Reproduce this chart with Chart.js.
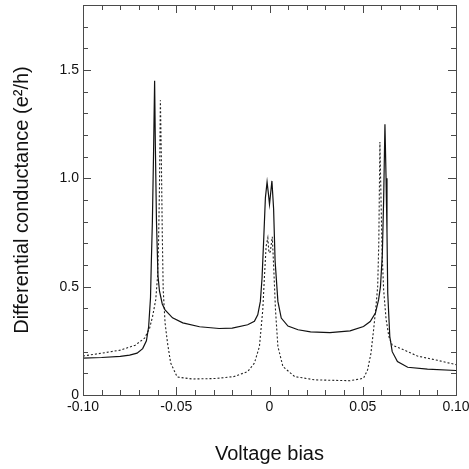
<!DOCTYPE html>
<html>
<head>
<meta charset="utf-8">
<script src="https://cdn.jsdelivr.net/npm/chart.js@4"></script>
<style>
  html, body { margin: 0; padding: 0; background: #fff; }
  canvas { display: block; }
</style>
</head>
<body>
<canvas id="grafico" width="469" height="469"></canvas>
<script>
// solid curve
const biasSolid = [-0.100, -0.090, -0.080, -0.075, -0.071, -0.068, -0.066, -0.0648, -0.0638, -0.0634,
  -0.0628, -0.0622, -0.0616, -0.0612, -0.0606, -0.0598, -0.0590, -0.0575, -0.0560, -0.0520,
  -0.0465, -0.0375, -0.0270, -0.0200, -0.0117, -0.0081, -0.0063, -0.0049, -0.0040, -0.0031,
  -0.0022, -0.0013, -0.0006, 0.0000, 0.0006, 0.0013, 0.0022, 0.0030, 0.0045, 0.0063,
  0.0099, 0.0153, 0.0220, 0.0324, 0.0432, 0.0504, 0.0540, 0.0568, 0.0585, 0.0595,
  0.0605, 0.0612, 0.0619, 0.0625, 0.0630, 0.0634, 0.0645, 0.0658, 0.0686, 0.0741,
  0.0847, 0.1000];
const condSolid = [0.170, 0.173, 0.178, 0.184, 0.193, 0.214, 0.250, 0.315, 0.45, 0.60,
  0.80, 1.10, 1.45, 1.15, 0.80, 0.55, 0.48, 0.42, 0.393, 0.356,
  0.333, 0.315, 0.307, 0.309, 0.324, 0.340, 0.370, 0.432, 0.54, 0.72,
  0.91, 0.983, 0.93, 0.88, 0.93, 0.988, 0.86, 0.62, 0.432, 0.355,
  0.318, 0.301, 0.291, 0.288, 0.296, 0.316, 0.339, 0.378, 0.44, 0.50,
  0.65, 0.90, 1.25, 1.00, 0.75, 0.47, 0.27, 0.20, 0.154, 0.128,
  0.119, 0.113];

// dotted curve
const biasDotted = [-0.100, -0.090, -0.080, -0.072, -0.067, -0.0643, -0.0627, -0.0610, -0.0600, -0.0595,
  -0.0590, -0.0585, -0.0580, -0.0575, -0.0570, -0.0560, -0.0547, -0.0530, -0.0495, -0.0415,
  -0.0290, -0.0190, -0.0117, -0.0081, -0.0054, -0.0036, -0.0027, -0.0018, -0.0009, -0.0003,
  0.0004, 0.0015, 0.0023, 0.0032, 0.0045, 0.0072, 0.0135, 0.0243, 0.0324, 0.0432,
  0.0504, 0.0526, 0.0544, 0.0558, 0.0571, 0.0580, 0.0586, 0.0592, 0.0598, 0.0604,
  0.0612, 0.0625, 0.0640, 0.0658, 0.0703, 0.0793, 0.0901, 0.1000];
const condDotted = [0.180, 0.193, 0.207, 0.230, 0.262, 0.308, 0.362, 0.44, 0.55, 0.70,
  0.95, 1.36, 1.10, 0.75, 0.486, 0.333, 0.241, 0.148, 0.083, 0.074,
  0.076, 0.085, 0.108, 0.147, 0.224, 0.394, 0.548, 0.687, 0.725, 0.656,
  0.66, 0.73, 0.58, 0.394, 0.224, 0.131, 0.085, 0.070, 0.068, 0.066,
  0.077, 0.116, 0.193, 0.30, 0.41, 0.50, 0.70, 1.168, 0.90, 0.65,
  0.486, 0.35, 0.27, 0.230, 0.215, 0.180, 0.160, 0.140];

const xTickLabels = ['-0.10', '-0.05', '0', '0.05', '0.10'];
const yTickLabels = ['0', '0.5', '1.0', '1.5'];

const toPoints = (xs, ys) => xs.map((x, i) => ({ x: x, y: ys[i] }));

// inward ticks on all four sides + frame
const marcoPlugin = {
  id: 'marco',
  afterDatasetsDraw(chart) {
    const ctx = chart.ctx;
    const a = chart.chartArea;
    const sx = chart.scales.x, sy = chart.scales.y;
    ctx.save();
    ctx.strokeStyle = '#4a4a4a';
    ctx.lineWidth = 1;
    ctx.beginPath();
    for (let i = -10; i <= 10; i++) {
      const px = Math.round(sx.getPixelForValue(i / 100)) + 0.5;
      const len = (i % 5 === 0) ? 8 : 5;
      ctx.moveTo(px, a.bottom); ctx.lineTo(px, a.bottom - len);
      ctx.moveTo(px, a.top); ctx.lineTo(px, a.top + len);
    }
    for (let j = 0; j <= 18; j++) {
      const py = Math.round(sy.getPixelForValue(j / 10)) + 0.5;
      const len = (j % 5 === 0) ? 8 : 5;
      ctx.moveTo(a.left, py); ctx.lineTo(a.left + len, py);
      ctx.moveTo(a.right, py); ctx.lineTo(a.right - len, py);
    }
    ctx.stroke();
    ctx.strokeRect(Math.round(a.left) + 0.5, Math.round(a.top) + 0.5,
      Math.round(a.right - a.left), Math.round(a.bottom - a.top));
    ctx.restore();
  }
};

Chart.defaults.font.family = "'Liberation Sans', Arial, sans-serif";
Chart.defaults.color = '#111';

const ctx = document.getElementById('grafico').getContext('2d');
const myChart = new Chart(ctx, {
  type: 'line',
  data: {
    datasets: [{
      label: 'solid',
      data: toPoints(biasSolid, condSolid),
      borderColor: '#111',
      borderWidth: 1.2,
      pointRadius: 0,
      tension: 0,
      fill: false,
    }, {
      label: 'dotted',
      data: toPoints(biasDotted, condDotted),
      borderColor: '#222',
      borderWidth: 1.1,
      borderDash: [2, 2],
      pointRadius: 0,
      tension: 0,
      fill: false,
    }],
  },
  options: {
    responsive: false,
    animation: false,
    layout: { padding: { left: 6, top: 5, right: 13, bottom: 0 } },
    plugins: {
      legend: { display: false },
      tooltip: { enabled: false },
    },
    scales: {
      x: {
        type: 'linear',
        min: -0.1,
        max: 0.1,
        grid: { display: false, drawTicks: false },
        border: { display: false },
        ticks: {
          stepSize: 0.05,
          includeBounds: false,
          autoSkip: false,
          maxRotation: 0,
          padding: 4,
          font: { size: 14 },
          callback: (v) => xTickLabels[Math.round((v + 0.1) / 0.05)],
        },
        title: {
          display: true,
          text: 'Voltage bias',
          font: { size: 20 },
          color: '#111',
          padding: { top: 4, bottom: 3 },
        },
        afterFit: (scale) => {
          scale.height = 74;
          scale.paddingLeft = 0;
          scale.paddingRight = 0;
        },
      },
      y: {
        type: 'linear',
        min: 0,
        max: 1.8,
        grid: { display: false, drawTicks: false },
        border: { display: false },
        ticks: {
          stepSize: 0.5,
          includeBounds: false,
          padding: 4,
          font: { size: 14 },
          callback: (v) => yTickLabels[Math.round(v / 0.5)],
        },
        title: {
          display: true,
          text: 'Differential conductance (e²/h)',
          font: { size: 20 },
          color: '#111',
          padding: { top: 4, bottom: 4 },
        },
        afterFit: (scale) => {
          scale.width = 77;
          scale.paddingTop = 0;
          scale.paddingBottom = 0;
        },
      },
    },
  },
  plugins: [marcoPlugin],
});
</script>
</body>
</html>
